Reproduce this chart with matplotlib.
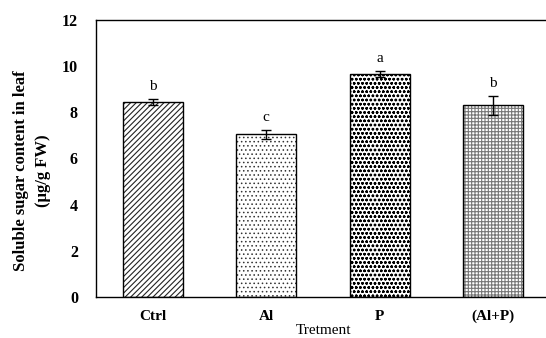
import matplotlib
matplotlib.use("Agg")
import matplotlib.pyplot as plt

categories = ["Ctrl", "Al", "P", "(Al+P)"]
values = [8.45, 7.05, 9.65, 8.3]
errors = [0.12, 0.2, 0.14, 0.4]
letters = ["b", "c", "a", "b"]
hatches = ["//////", "....", "oooo", "+++++"]
hatch_colors = ["#222222", "#333333", "black", "#777777"]
hatch_lw = [0.8, 0.6, 0.7, 0.8]

plt.rcParams['font.family'] = ['Liberation Serif', 'DejaVu Serif']

fig = plt.figure(figsize=(5.46, 3.38), dpi=100)
ax = fig.add_axes([96/546, (338-297)/338, (550-96)/546, (297-20)/338])

x = list(range(len(categories)))
for i in x:
    with plt.rc_context({'hatch.linewidth': hatch_lw[i]}):
        ax.bar(i, values[i], width=0.53, color="white", edgecolor=hatch_colors[i],
               hatch=hatches[i], linewidth=0, zorder=2)
ax.bar(x, values, width=0.53, fill=False, edgecolor="black", linewidth=1.0, zorder=3)
ax.errorbar(x, values, yerr=errors, fmt="none", ecolor="black", elinewidth=1.0,
            capsize=3.5, capthick=1.0, zorder=4)
for i in x:
    ax.text(i, values[i] + errors[i] + 0.25, letters[i], ha="center", va="bottom",
            fontsize=11)

ax.set_xlim(-0.5, 3.5)
ax.set_ylim(0, 12)
ax.set_yticks([0, 2, 4, 6, 8, 10, 12])
ax.set_xticks(x)
ax.set_xticklabels(categories, fontsize=11, fontweight="bold")
for lab in ax.get_yticklabels():
    lab.set_fontsize(11.5)
    lab.set_fontweight("bold")
ax.tick_params(axis="x", length=0, pad=9)
ax.tick_params(axis="y", length=0, pad=13)
ax.set_xlabel("Tretment", fontsize=11, labelpad=1)
ax.set_ylabel("Soluble sugar content in leaf\n(μg/g FW)", fontsize=12,
              fontweight="bold", linespacing=1.5)
ax.yaxis.set_label_coords(-0.10, 0.455)
for s in ax.spines.values():
    s.set_linewidth(1.0)

fig.savefig("out.png", dpi=100)
